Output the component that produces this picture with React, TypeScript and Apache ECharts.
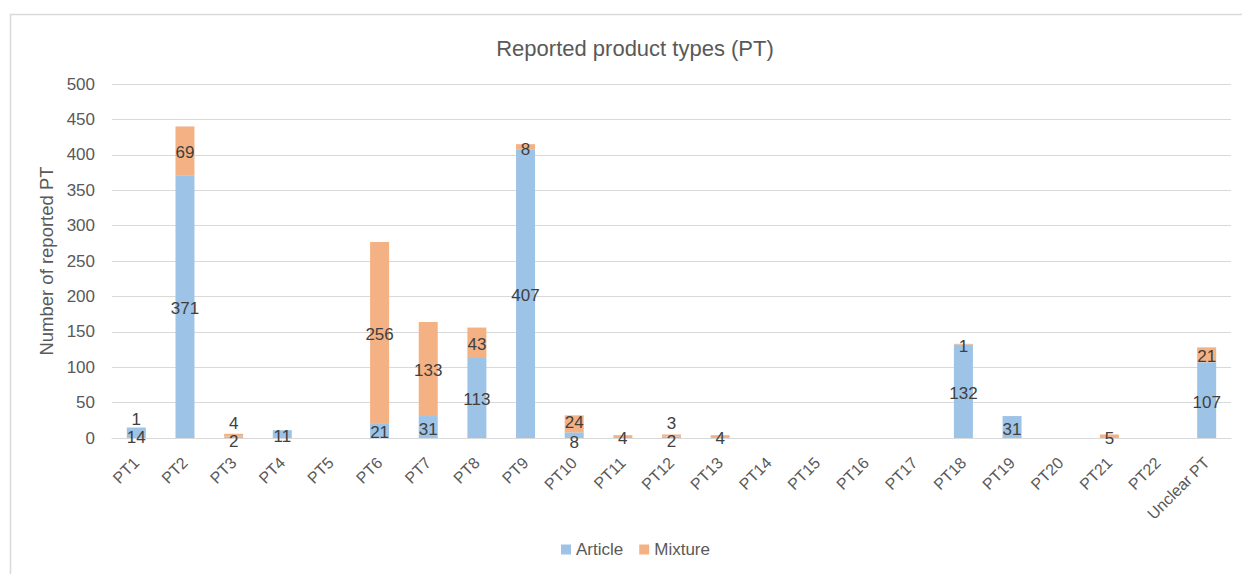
import React, { useEffect, useRef } from "react";
import * as echarts from "echarts";

const categories = ["PT1","PT2","PT3","PT4","PT5","PT6","PT7","PT8","PT9","PT10","PT11","PT12","PT13","PT14","PT15","PT16","PT17","PT18","PT19","PT20","PT21","PT22","Unclear PT"];
const article = [14,371,2,11,0,21,31,113,407,8,0,2,0,0,0,0,0,132,31,0,0,0,107];
const mixture = [1,69,4,0,0,256,133,43,8,24,4,3,4,0,0,0,0,1,0,0,5,0,21];
const yTicks = { min: 0, max: 500, interval: 50 };

// label nudges (pixels) for crowded small segments, keyed by category
const articleLabelShift: Record<string, number> = { PT1: 4, PT3: 4, PT12: 4, PT10: 7 };
const mixtureLabelShift: Record<string, number> = { PT1: -8, PT3: -12, PT12: -12, PT10: -1 };

const FONT = "'Liberation Sans', Arial, sans-serif";
const GREY = "#595959";

function buildData(values: number[], shifts: Record<string, number>) {
  return values.map((v, i) => {
    const s = shifts[categories[i]];
    return {
      value: v,
      label: { offset: [0, s !== undefined ? s : 2] },
    };
  });
}

export default function App() {
  const ref = useRef<HTMLDivElement>(null);
  useEffect(() => {
    document.body.style.margin = "0";
    const chart = echarts.init(ref.current!, null, { renderer: "svg" });
    const label = {
      show: true,
      position: "inside",
      color: "#404040",
      fontSize: 17,
      fontFamily: FONT,
      formatter: (p: any) => (p.value ? String(p.value) : ""),
    };
    chart.setOption({
      animation: false,
      backgroundColor: "#ffffff",
      textStyle: { fontFamily: FONT },
      title: {
        text: "Reported product types (PT)",
        left: 630,
        textAlign: "center",
        top: 32,
        textStyle: { fontSize: 22, fontWeight: "normal", color: GREY, fontFamily: FONT },
      },
      graphic: [
        {
          type: "rect",
          shape: { x: 10.5, y: 14.5, width: 1240, height: 570 },
          style: { fill: "none", stroke: "#d9d9d9", lineWidth: 1.5 },
          silent: true,
        },
      ],
      legend: {
        bottom: 11,
        left: 556,
        icon: "rect",
        itemWidth: 10,
        itemHeight: 10,
        itemGap: 16,
        textStyle: { fontSize: 17, color: GREY, fontFamily: FONT },
        data: ["Article", "Mixture"],
      },
      grid: { left: 112, right: 11, top: 84, bottom: 136, containLabel: false },
      xAxis: {
        type: "category",
        data: categories,
        axisTick: { show: false },
        axisLine: { lineStyle: { color: "#d9d9d9" } },
        axisLabel: { rotate: 45, color: GREY, fontSize: 16, margin: 22, interval: 0, fontFamily: FONT },
      },
      yAxis: {
        type: "value",
        min: yTicks.min,
        max: yTicks.max,
        interval: yTicks.interval,
        name: "Number of reported PT",
        nameLocation: "middle",
        nameGap: 49,
        nameTextStyle: { fontSize: 18.5, color: GREY, fontFamily: FONT },
        axisLabel: { color: GREY, fontSize: 17, margin: 17, fontFamily: FONT },
        splitLine: { lineStyle: { color: "#d9d9d9", width: 1 } },
        axisLine: { show: false },
        axisTick: { show: false },
      },
      series: [
        {
          name: "Article",
          type: "bar",
          stack: "total",
          data: buildData(article, articleLabelShift),
          barWidth: 19,
          itemStyle: { color: "#9dc3e6" },
          label,
        },
        {
          name: "Mixture",
          type: "bar",
          stack: "total",
          data: buildData(mixture, mixtureLabelShift),
          barWidth: 19,
          itemStyle: { color: "#f4b183" },
          label,
        },
      ],
    });
    return () => chart.dispose();
  }, []);
  return <div ref={ref} style={{ width: 1242, height: 574 }} />;
}
